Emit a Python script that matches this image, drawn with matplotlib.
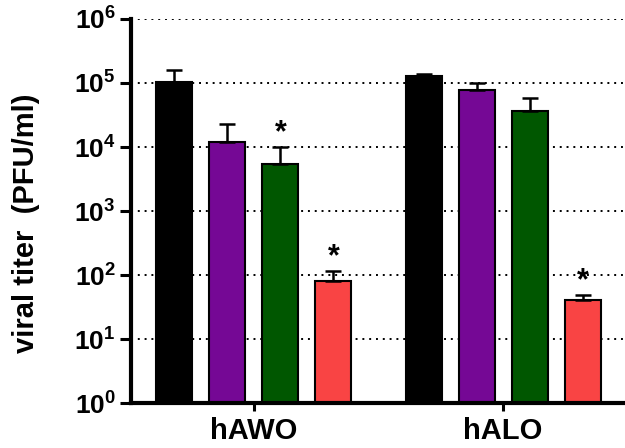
import math
import matplotlib.pyplot as plt
from matplotlib.ticker import LogLocator, NullLocator, FuncFormatter

plt.rcParams['font.family'] = ['Liberation Sans', 'DejaVu Sans']
plt.rcParams['mathtext.fontset'] = 'custom'
plt.rcParams['mathtext.bf'] = 'Liberation Sans:bold'
plt.rcParams['mathtext.rm'] = 'Liberation Sans:bold'

# data (PFU/ml)
groups = ['hAWO', 'hALO']
colors = ['#000000', '#750895', '#005700', '#F94444']
awo_mean = [1.05e5, 1.18e4, 5.5e3, 80]
awo_err = [5.5e4, 1.12e4, 4.5e3, 35]
awo_sig = [False, False, True, True]
alo_mean = [1.28e5, 7.7e4, 3.7e4, 40]
alo_err = [1.0e4, 2.3e4, 2.1e4, 9]
alo_sig = [False, False, False, True]

means = [awo_mean, alo_mean]
errs = [awo_err, alo_err]
sigs = [awo_sig, alo_sig]

group_gap = 4.7
width = 0.68

fig = plt.figure(figsize=(6.25, 4.48), dpi=100)
ax = fig.add_axes([0.2096, 0.1004, 0.7904, 0.8572])
ax.set_yscale('log')

for g in range(len(groups)):
    for i in range(4):
        x = g * group_gap + (i - 1.5)
        m = means[g][i]
        e = errs[g][i]
        ax.bar(x, m - 1, bottom=1, width=width, color=colors[i],
               edgecolor='black', linewidth=1.5, zorder=2)
        ax.errorbar(x, m, yerr=[[0], [e]], fmt='none', ecolor='black',
                    elinewidth=1.8, capsize=6, capthick=1.8, zorder=3)
        if sigs[g][i]:
            ax.annotate('*', (x, m + e), xytext=(0, -1), textcoords='offset points',
                        ha='center', va='bottom', fontsize=22, fontweight='bold')

ax.set_ylim(1, 1e6)
ax.set_xlim(-2.32, 7.0)


def dec_label(v, pos):
    return r'$\mathbf{10^{%d}}$' % round(math.log10(v))


ax.yaxis.set_major_locator(LogLocator(base=10, numticks=10))
ax.yaxis.set_minor_locator(NullLocator())
ax.yaxis.set_major_formatter(FuncFormatter(dec_label))
ax.tick_params(axis='y', labelsize=19, length=8, width=2.2, pad=3)

ax.set_xticks([0, group_gap])
ax.set_xticklabels(groups, fontsize=21, fontweight='bold')
ax.tick_params(axis='x', length=6, width=2.2, pad=4)

ax.yaxis.grid(True, linestyle=(0, (1, 2.5)), color='black', linewidth=1.4)
ax.set_axisbelow(True)

for s in ['top', 'right']:
    ax.spines[s].set_visible(False)
for s in ['left', 'bottom']:
    ax.spines[s].set_linewidth(3)

fig.text(26 / 625, 1 - 223.5 / 448, 'viral titer  (PFU/ml)', rotation=90,
         ha='center', va='center', fontsize=21, fontweight='bold')

fig.savefig('out.png', dpi=100)
